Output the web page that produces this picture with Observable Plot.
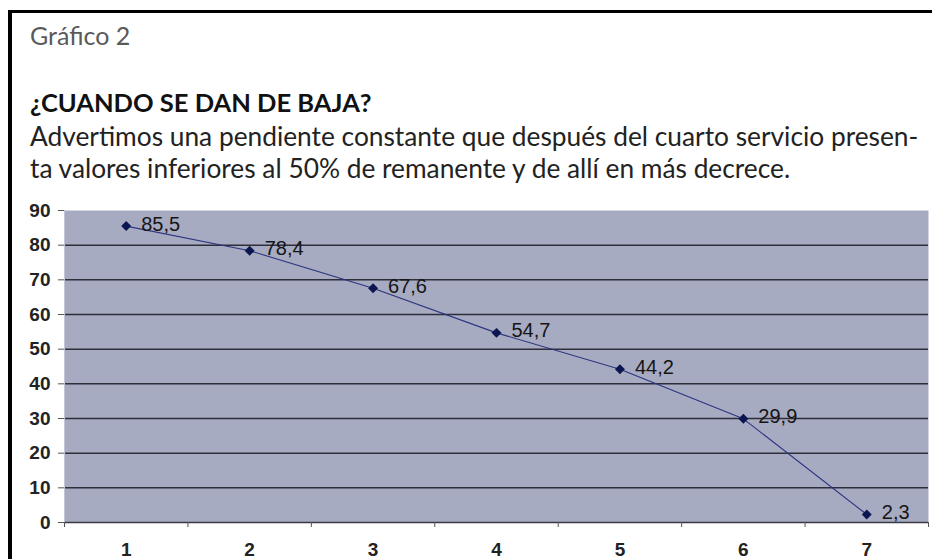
<!DOCTYPE html>
<html>
<head>
<meta charset="utf-8">
<script src="https://cdn.jsdelivr.net/npm/d3@7"></script>
<script src="https://cdn.jsdelivr.net/npm/@observablehq/plot@0.6"></script>
<style>
  html, body { margin: 0; padding: 0; background: #fff; width: 932px; height: 559px; overflow: hidden; }
  #frame { position: absolute; left: 8px; top: 10px; width: 924px; height: 549px;
           border-left: 4px solid #000; border-top: 3px solid #000; box-sizing: border-box; }
  .t { position: absolute; left: 30px; font-family: Lato, "Open Sans", sans-serif; white-space: nowrap; line-height: 1; }
  #kicker { top: 23px; font-size: 25px; color: #5a5a5a; font-weight: 400; }
  #title { top: 90px; font-size: 25.5px; color: #111; font-weight: 700; }
  #sub1 { top: 123px; font-size: 26.3px; color: #222; }
  #sub2 { top: 155px; font-size: 26.3px; color: #222; }
  #chart { position: absolute; left: 12px; top: 195px; }
</style>
</head>
<body>
<div id="frame"></div>
<div class="t" id="kicker">Gráfico 2</div>
<div class="t" id="title">¿CUANDO SE DAN DE BAJA?</div>
<div class="t" id="sub1">Advertimos una pendiente constante que después del cuarto servicio presen-</div>
<div class="t" id="sub2">ta valores inferiores al 50% de remanente y de allí en más decrece.</div>
<div id="chart"></div>
<script>
const servicios = [1, 2, 3, 4, 5, 6, 7];
const remanente = [85.5, 78.4, 67.6, 54.7, 44.2, 29.9, 2.3];
const yTicks = [0, 10, 20, 30, 40, 50, 60, 70, 80, 90];
const gridValues = [10, 20, 30, 40, 50, 60, 70, 80];

const data = servicios.map((s, i) => ({ s, v: remanente[i] }));
const bounds = [servicios[0] - 0.5, ...servicios.map(s => s + 0.5)];
const x0 = bounds[0];
const fmt = v => String(v).replace(".", ",");

const chart = Plot.plot({
  width: 920,
  height: 364,
  marginLeft: 52,
  marginRight: 4,
  marginTop: 15,
  marginBottom: 37,
  style: { fontFamily: "'Liberation Sans', Arial, sans-serif", background: "transparent" },
  x: { type: "linear", domain: [bounds[0], bounds[bounds.length - 1]], axis: null },
  y: { type: "linear", domain: [0, 90], axis: null },
  marks: [
    Plot.frame({ fill: "#a7abc1", stroke: null }),
    Plot.ruleY(gridValues, { stroke: "#2e2e3a", strokeWidth: 1.5 }),
    Plot.ruleY([0], { stroke: "#3a3a44", strokeWidth: 1.5 }),
    Plot.ruleX([x0], { y1: 0, y2: 90, stroke: "#c3c6d4", strokeWidth: 1 }),
    // y axis ticks & labels
    Plot.ruleY(yTicks, { y: d => d, x1: x0, x2: x0, insetLeft: -6, stroke: "#555" }),
    Plot.text(yTicks, { y: d => d, x: x0, dx: -14, textAnchor: "end", fontSize: 19, fontWeight: "bold", fill: "#222", text: d => String(d) }),
    // x boundary ticks
    Plot.ruleX(bounds, { x: d => d, y1: 0, y2: 0, insetBottom: -5, stroke: "#555" }),
    Plot.text(servicios, { x: d => d, y: 0, dy: 27, fontSize: 19, fontWeight: "bold", fill: "#222", text: d => String(d) }),
    // data
    Plot.line(data, { x: "s", y: "v", stroke: "#2b3580", strokeWidth: 1.1 }),
    Plot.dot(data, { x: "s", y: "v", symbol: "diamond2", r: 4.5, fill: "#0b1650", stroke: null }),
    Plot.text(data, { x: "s", y: "v", text: d => fmt(d.v), dx: 15, dy: -2, textAnchor: "start", fontSize: 20, fill: "#151515" })
  ]
});
document.getElementById("chart").appendChild(chart);
</script>
</body>
</html>
